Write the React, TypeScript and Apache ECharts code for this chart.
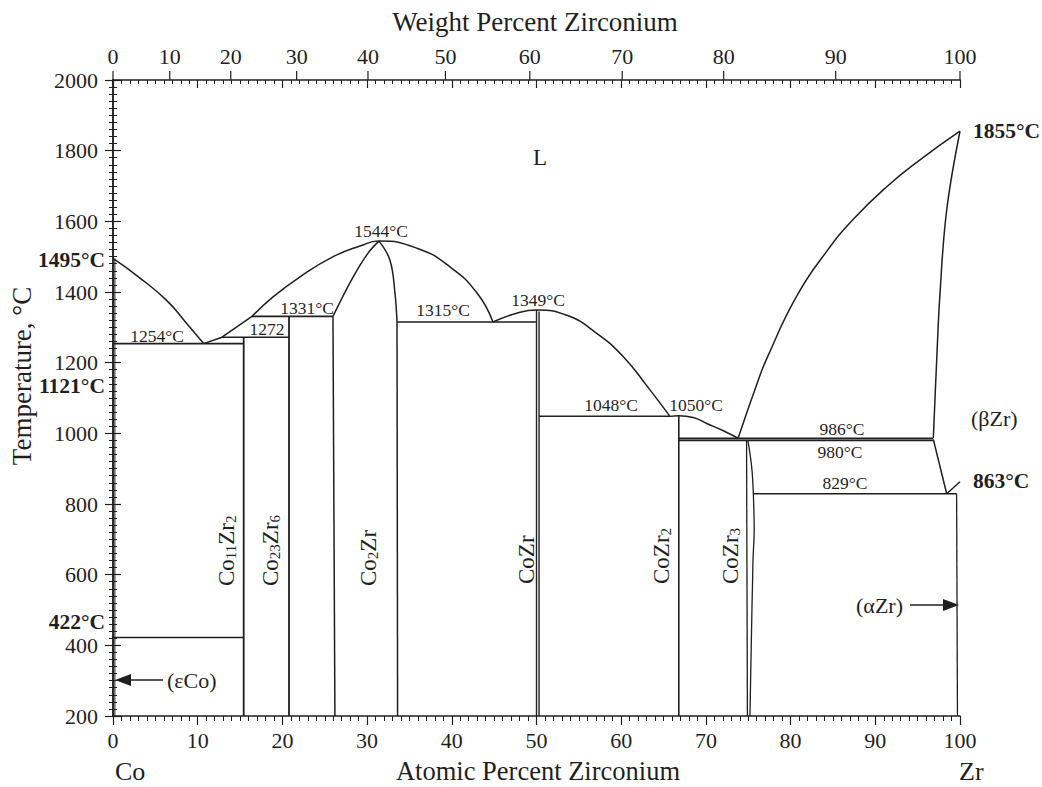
import React, { useEffect, useRef } from "react";
import * as echarts from "echarts";

const SERIF = "'Liberation Serif', 'Times New Roman', serif";
const INK = "#1f1f1f";

// ---- axis data ----
const weightPercentTicks = [0, 10, 20, 30, 40, 50, 60, 70, 80, 90, 100];
const M_CO = 58.933;
const M_ZR = 91.224;
const wtToAt = (w: number) => {
  const z = w / M_ZR;
  const c = (100 - w) / M_CO;
  return (z / (z + c)) * 100;
};

// ---- phase boundaries [at.% Zr, °C] ----
const coLiquidus = [[0, 1495], [3, 1443], [6.3, 1377], [8.7, 1311], [10.7, 1254]];
const peritecticLiquidus = [[10.7, 1254], [12.87, 1272], [16.41, 1331]];
const co2ZrLiquidus = [
  [16.41, 1331], [18.93, 1387], [22.08, 1443], [26.0, 1500], [29.16, 1530], [31.4, 1544],
  [35.89, 1524], [39.79, 1471], [42.98, 1397], [44.86, 1315],
];
const co2ZrSolidusLeft = [[25.97, 1331], [28.34, 1442], [30.11, 1510], [31.4, 1544]];
const co2ZrSolidusRight = [[31.4, 1544], [32.7, 1490], [33.29, 1397], [33.53, 1315]];
const co2ZrRightBoundary = [[33.53, 1315], [33.6, 200]];
const co2ZrLeftBoundary = [[25.97, 1331], [26.2, 200]];
const co11Zr2Line = [[15.43, 1272], [15.43, 200]];
const co23Zr6Line = [[20.78, 1331], [20.78, 200]];
const coSolvus = [[0.22, 1495], [0.22, 200]];
const iso1254 = [[0, 1254], [15.43, 1254]];
const iso1272 = [[12.87, 1272], [20.78, 1272]];
const iso1331 = [[16.41, 1331], [25.97, 1331]];
const iso422 = [[0, 422], [15.43, 422]];
const iso1315 = [[33.55, 1315], [50, 1315]];
const coZrLiquidus = [
  [44.86, 1315], [47.66, 1340], [50, 1349], [53.57, 1334], [57.11, 1283],
  [60.25, 1217], [63.01, 1135], [65.76, 1048],
];
const coZrLineA = [[50, 1349], [50, 200]];
const coZrLineB = [[50.3, 1345], [50.3, 200]];
const iso1048 = [[50.3, 1048], [65.76, 1048]];
const coZr2Liquidus = [[65.76, 1048], [66.8, 1050], [68.5, 1045], [70.1, 1028], [72.0, 1008], [73.8, 986]];
const coZr2Line = [[66.8, 1050], [66.8, 200]];
const iso986 = [[66.8, 986], [96.8, 986]];
const iso980 = [[66.8, 980], [96.8, 980]];
const coZr3Left = [[74.8, 980], [74.9, 200]];
const coZr3Right = [[74.95, 980], [75.4, 906], [75.6, 829], [75.7, 726], [75.56, 641], [75.2, 200]];
const betaLiquidus = [
  [73.8, 986], [76.19, 1151], [77.21, 1213], [80.72, 1388], [84.26, 1515],
  [87.37, 1605], [91.35, 1698], [95.28, 1774], [100, 1855],
];
const betaSolidus = [[100, 1855], [98.43, 1632], [97.64, 1396], [97.25, 1208], [96.85, 986]];
const betaSolvus = [[96.85, 983], [98.43, 829]];
const iso829 = [[75.6, 829], [99.6, 829]];
const transus863 = [[98.43, 829], [100, 863]];
const alphaZrLine = [[99.6, 829], [99.7, 200]];

type Pt = number[];
const ln = (data: Pt[], opts: any = {}) => ({
  type: "line",
  data,
  symbol: "none",
  silent: true,
  clip: false,
  lineStyle: { color: INK, width: opts.width ?? 1.5 },
  smooth: opts.smooth ?? false,
  z: 3,
});

const txt = (
  text: string,
  x: number,
  y: number,
  o: { size?: number; bold?: boolean; align?: string; va?: string; rotation?: number } = {}
) => ({
  type: "text",
  x,
  y,
  rotation: o.rotation ?? 0,
  silent: true,
  z: 10,
  style: {
    text,
    fill: INK,
    fontFamily: SERIF,
    fontSize: o.size ?? 17.5,
    fontWeight: o.bold ? "bold" : "normal",
    align: o.align ?? "center",
    verticalAlign: o.va ?? "middle",
  },
});

const compound = (rt: string, x: number, y: number) => ({
  type: "text",
  x,
  y,
  rotation: Math.PI / 2,
  silent: true,
  z: 10,
  style: {
    text: rt,
    align: "left",
    verticalAlign: "middle",
    fill: INK,
    rich: {
      n: { fontFamily: SERIF, fontSize: 23, lineHeight: 24, fill: INK },
      s: { fontFamily: SERIF, fontSize: 15, lineHeight: 8, verticalAlign: "bottom", fill: INK },
    },
  },
});

export default function App() {
  const ref = useRef<HTMLDivElement>(null);
  useEffect(() => {
    document.body.style.margin = "0";
    const chart = echarts.init(ref.current!, null, { renderer: "svg" });
    const axisLineStyle = { lineStyle: { color: INK, width: 1.5 } };
    const labelStyle = { fontFamily: SERIF, fontSize: 22, color: INK, formatter: (v: number) => String(v) };
    const option: any = {
      animation: false,
      backgroundColor: "#ffffff",
      grid: { left: 113, right: 82, top: 80, bottom: 71 },
      xAxis: [
        {
          type: "value", min: 0, max: 100, interval: 10, position: "bottom",
          axisLine: axisLineStyle,
          axisTick: { show: true, inside: false, length: 9, lineStyle: { color: INK, width: 1.2 } },
          minorTick: { show: true, splitNumber: 10, length: 5, lineStyle: { color: INK, width: 1 } },
          axisLabel: { ...labelStyle, margin: 13 },
          splitLine: { show: false },
        },
        {
          type: "value", min: 0, max: 100, interval: 10, position: "top",
          axisLine: axisLineStyle,
          axisTick: { show: true, inside: true, length: 8, lineStyle: { color: INK, width: 1.2 } },
          minorTick: { show: true, splitNumber: 10, length: 4, lineStyle: { color: INK, width: 1 } },
          axisLabel: { show: false },
          splitLine: { show: false },
        },
      ],
      yAxis: [
        {
          type: "value", min: 200, max: 2000, interval: 200, position: "left",
          axisLine: { show: true, ...axisLineStyle },
          axisTick: { show: true, inside: false, length: 8, lineStyle: { color: INK, width: 1.2 } },
          minorTick: { show: true, splitNumber: 10, length: 4, lineStyle: { color: INK, width: 1 } },
          axisLabel: { ...labelStyle, margin: 15 },
          splitLine: { show: false },
        },
        {
          type: "value", min: 200, max: 2000, interval: 200, position: "right",
          axisLine: { show: true, ...axisLineStyle },
          axisTick: { show: true, inside: false, length: 8, lineStyle: { color: INK, width: 1.2 } },
          minorTick: { show: true, splitNumber: 10, length: 4, lineStyle: { color: INK, width: 1 } },
          axisLabel: { show: false },
          splitLine: { show: false },
        },
      ],
      series: [
        ln(coLiquidus, { smooth: 0.5 }),
        ln(peritecticLiquidus),
        ln(co2ZrLiquidus, { smooth: 0.5 }),
        ln(co2ZrSolidusLeft, { smooth: 0.4 }),
        ln(co2ZrSolidusRight, { smooth: 0.4 }),
        ln(co2ZrRightBoundary),
        ln(co2ZrLeftBoundary),
        ln(co11Zr2Line, { width: 1.8 }),
        ln(co23Zr6Line, { width: 1.8 }),
        ln(coSolvus, { width: 1 }),
        ln(iso1254, { width: 1.8 }),
        ln(iso1272, { width: 1.6 }),
        ln(iso1331, { width: 1.6 }),
        ln(iso422, { width: 1.6 }),
        ln(iso1315, { width: 1.6 }),
        ln(coZrLiquidus, { smooth: 0.5 }),
        ln(coZrLineA, { width: 1.4 }),
        ln(coZrLineB, { width: 1.4 }),
        ln(iso1048, { width: 1.5 }),
        ln(coZr2Liquidus, { smooth: 0.5 }),
        ln(coZr2Line, { width: 1.6 }),
        ln(iso986, { width: 1.8 }),
        ln(iso980, { width: 1.8 }),
        ln(coZr3Left, { width: 1.3 }),
        ln(coZr3Right, { smooth: 0.4, width: 1.3 }),
        ln(betaLiquidus, { smooth: 0.5 }),
        ln(betaSolidus, { smooth: 0.4 }),
        ln(betaSolvus),
        ln(iso829),
        ln(transus863),
        ln(alphaZrLine, { width: 1.3 }),
        {
          type: "custom",
          coordinateSystem: "cartesian2d",
          silent: true,
          clip: false,
          data: weightPercentTicks.map((w) => [wtToAt(w), 2000, w]),
          renderItem: (_p: any, api: any) => {
            const p = api.coord([api.value(0), api.value(1)]);
            return {
              type: "group",
              children: [
                {
                  type: "line",
                  shape: { x1: p[0], y1: p[1], x2: p[0], y2: p[1] - 9 },
                  style: { stroke: INK, lineWidth: 1.2 },
                },
                {
                  type: "text",
                  x: p[0],
                  y: p[1] - 24,
                  style: {
                    text: String(api.value(2)),
                    fill: INK,
                    fontFamily: SERIF,
                    fontSize: 22,
                    align: "center",
                    verticalAlign: "middle",
                  },
                },
              ],
            };
          },
        },
      ],
      graphic: [
        txt("Weight Percent Zirconium", 535, 22, { size: 27 }),
        txt("Atomic Percent Zirconium", 538, 771, { size: 26.5 }),
        txt("Temperature, °C", 22, 376, { size: 27, rotation: Math.PI / 2 }),
        txt("Co", 115, 771, { size: 26, align: "left" }),
        txt("Zr", 959, 771, { size: 26, align: "left" }),
        txt("L", 540, 157, { size: 23 }),
        txt("1544°C", 381, 231),
        txt("1254°C", 157, 336),
        txt("1272", 267, 329),
        txt("1331°C", 307, 308),
        txt("1315°C", 443, 310),
        txt("1349°C", 538, 300),
        txt("1048°C", 611, 405),
        txt("1050°C", 696, 405),
        txt("986°C", 842, 429),
        txt("980°C", 840, 452),
        txt("829°C", 845, 483),
        txt("(βZr)", 971, 418, { size: 22, align: "left" }),
        txt("1855°C", 973, 131, { size: 21.5, bold: true, align: "left" }),
        txt("863°C", 973, 481, { size: 21.5, bold: true, align: "left" }),
        txt("1495°C", 105, 260, { size: 21.5, bold: true, align: "right" }),
        txt("1121°C", 105, 386, { size: 21.5, bold: true, align: "right" }),
        txt("422°C", 105, 622, { size: 21.5, bold: true, align: "right" }),
        txt("(εCo)", 167, 680, { size: 22, align: "left" }),
        txt("(αZr)", 903, 605, { size: 22, align: "right" }),
        {
          type: "line", silent: true, z: 10,
          shape: { x1: 163, y1: 680, x2: 128, y2: 680 },
          style: { stroke: INK, lineWidth: 1.3 },
        },
        {
          type: "polygon", silent: true, z: 10,
          shape: { points: [[115, 680], [131, 674], [131, 686]] },
          style: { fill: INK },
        },
        {
          type: "line", silent: true, z: 10,
          shape: { x1: 910, y1: 605, x2: 946, y2: 605 },
          style: { stroke: INK, lineWidth: 1.3 },
        },
        {
          type: "polygon", silent: true, z: 10,
          shape: { points: [[959, 605], [943, 599], [943, 611]] },
          style: { fill: INK },
        },
        compound("{n|Co}{s|11}{n|Zr}{s|2}", 226, 586),
        compound("{n|Co}{s|23}{n|Zr}{s|6}", 270, 586),
        compound("{n|Co}{s|2}{n|Zr}", 368, 586),
        compound("{n|CoZr}", 526, 584),
        compound("{n|CoZr}{s|2}", 661, 584),
        compound("{n|CoZr}{s|3}", 730, 584),
      ],
    };
    chart.setOption(option);
    return () => chart.dispose();
  }, []);
  return (
    <div
      ref={ref}
      style={{ position: "fixed", left: 0, top: 0, width: 1042, height: 787, background: "#fff" }}
    />
  );
}
